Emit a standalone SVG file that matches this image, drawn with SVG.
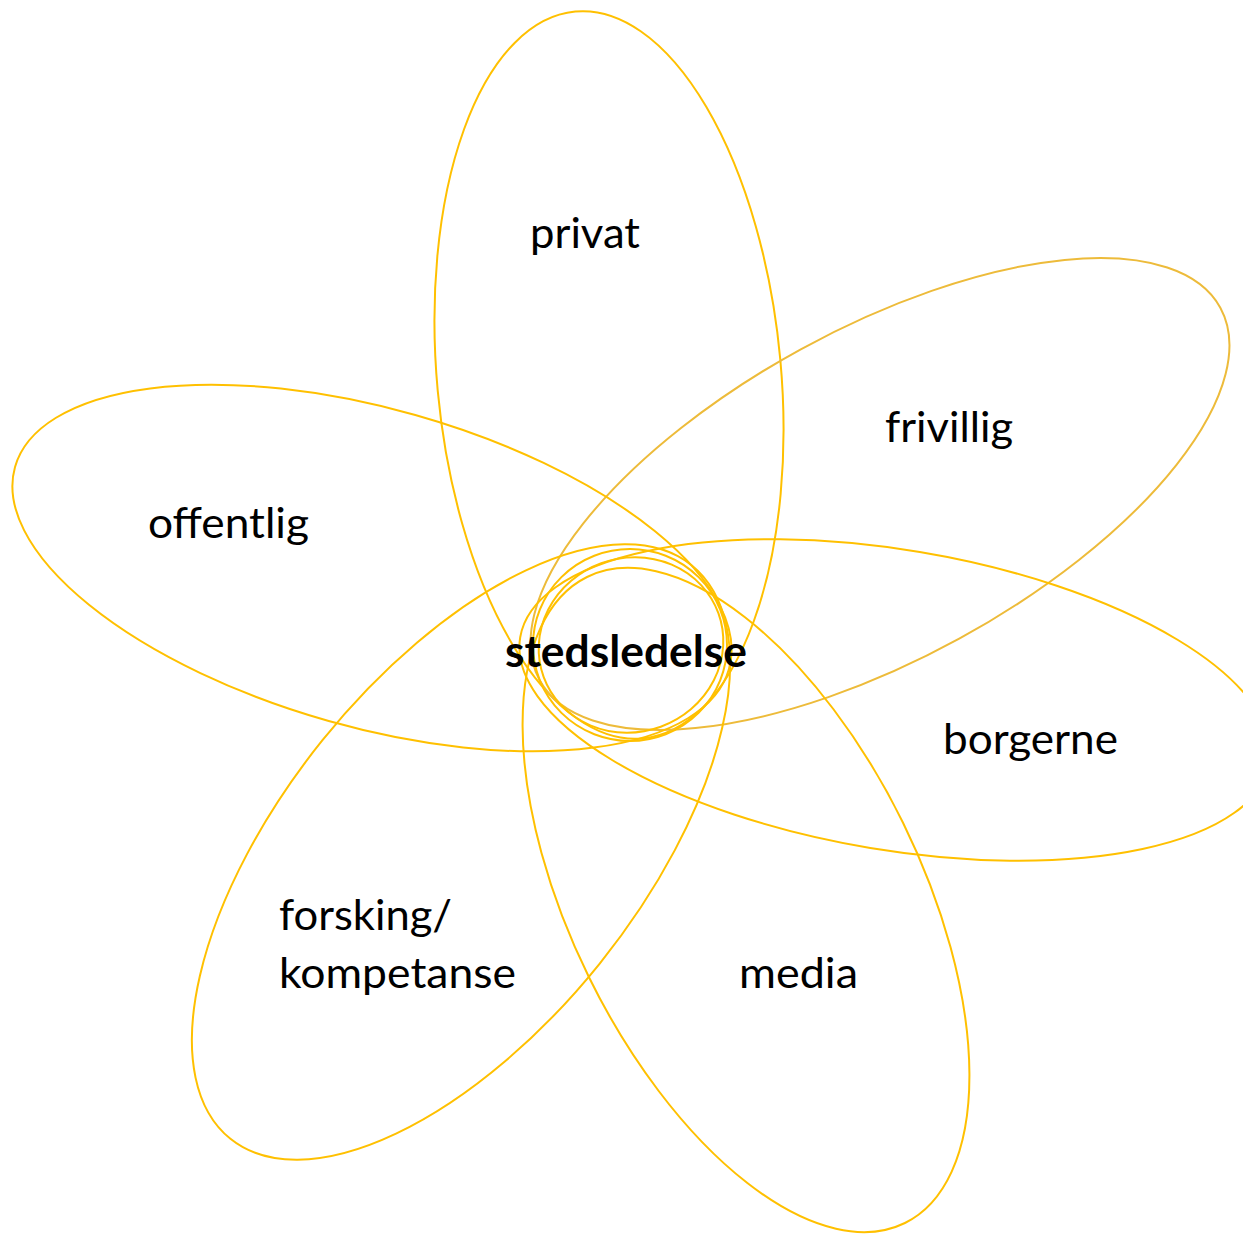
<svg xmlns="http://www.w3.org/2000/svg" width="1243" height="1234" viewBox="0 0 1243 1234">
<style>
.petal{fill:none;stroke:#FFC000;stroke-width:2}
.petal2{fill:none;stroke:#EDBB3A;stroke-width:2}
.lbl{font-family:Lato,"Open Sans","Liberation Sans",sans-serif;font-size:43px;fill:#000}
.ctr{font-family:Lato,"Open Sans","Liberation Sans",sans-serif;font-size:43px;font-weight:bold;fill:#000}
</style>
<rect width="1243" height="1234" fill="#fff"/>
<g id="shapes">
<ellipse id="e-privat" class="petal" cx="0" cy="0" rx="172" ry="365" transform="translate(609 375) rotate(-5.3)"/>
<ellipse id="e-frivillig" class="petal2" cx="0" cy="0" rx="388" ry="165" transform="translate(880 494) rotate(-28.7)"/>
<ellipse id="e-borgerne" class="petal" cx="0" cy="0" rx="380" ry="150" transform="translate(895 700) rotate(9.5)"/>
<ellipse id="e-media" class="petal" cx="0" cy="0" rx="175" ry="360" transform="translate(746 900) rotate(-26.2)"/>
<ellipse id="e-forsking" class="petal" cx="0" cy="0" rx="178" ry="368" transform="translate(461 852) rotate(38.8)"/>
<ellipse id="e-offentlig" class="petal" cx="0" cy="0" rx="371" ry="159" transform="translate(372 568) rotate(15.8)"/>
<ellipse id="e-center1" class="petal" cx="0" cy="0" rx="97" ry="96" transform="translate(630 645)"/>
<ellipse id="e-center2" class="petal" cx="0" cy="0" rx="93" ry="87" transform="translate(631 645) rotate(-20)"/>
</g>
<g id="labels">
<text id="t-privat" class="lbl" x="530" y="248" textLength="110" lengthAdjust="spacingAndGlyphs">privat</text>
<text id="t-frivillig" class="lbl" x="885" y="442" textLength="128" lengthAdjust="spacingAndGlyphs">frivillig</text>
<text id="t-offentlig" class="lbl" x="148" y="538" textLength="161" lengthAdjust="spacingAndGlyphs">offentlig</text>
<text id="t-center" class="ctr" x="505" y="667" textLength="242" lengthAdjust="spacingAndGlyphs">stedsledelse</text>
<text id="t-borgerne" class="lbl" x="943" y="754" textLength="175" lengthAdjust="spacingAndGlyphs">borgerne</text>
<text id="t-forsking1" class="lbl" x="279" y="930" textLength="173" lengthAdjust="spacingAndGlyphs">forsking/</text>
<text id="t-forsking2" class="lbl" x="279" y="988" textLength="237" lengthAdjust="spacingAndGlyphs">kompetanse</text>
<text id="t-media" class="lbl" x="739" y="988" textLength="119" lengthAdjust="spacingAndGlyphs">media</text>
</g>
</svg>
